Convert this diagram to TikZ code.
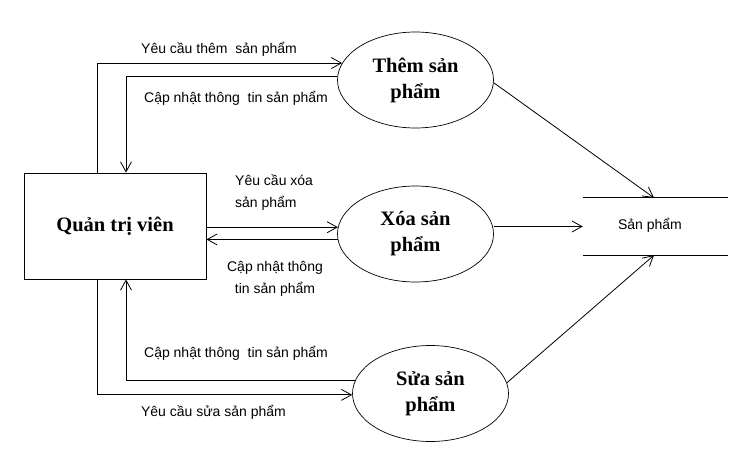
\documentclass[tikz,border=0pt]{standalone}
\usepackage{fontspec}
\setmainfont{Liberation Serif}
\newfontfamily\lblfont{Liberation Sans}
\usetikzlibrary{arrows.meta, shapes.geometric}

\begin{document}
\begin{tikzpicture}[x=1pt, y=-1pt,
		flow/.style={line width=.8pt, -{Straight Barb[length=10pt, width=11pt]}},
		proc/.style={ellipse, draw, line width=.7pt, minimum width=156pt, minimum height=96pt, inner sep=0pt, align=center, font=\fontsize{20.5}{26}\selectfont\bfseries},
		lbl/.style={font=\lblfont\fontsize{14}{22}\selectfont, inner sep=0pt}]
		\useasboundingbox (0, 0) rectangle (748, 459);
		% actor and processes
		\node[draw, line width=.8pt, minimum width=182pt, minimum height=106pt, font=\fontsize{20.5}{26}\selectfont\bfseries](qtv) at (115, 226){Quản trị viên};
		\node[proc](them) at (415.5, 80){Thêm sản\\phẩm};
		\node[proc](xoa) at (415.5, 234){Xóa sản\\phẩm};
		\node[proc](sua) at (430.5, 393.5){Sửa sản\\phẩm};
		% data store
		\node[minimum width=145pt, minimum height=57pt, inner sep=0pt](sp) at (655.5, 226.5){};
		\node[lbl](sptext) at (650, 225){Sản phẩm};
		\draw[line width=.8pt](sp.north west)--(sp.north east);
		\draw[line width=.8pt](sp.south west)--(sp.south east);
		\coordinate (tl) at ([xshift=-18pt]qtv.north);
		\coordinate (tr) at ([xshift=11pt]qtv.north);
		\coordinate (bl) at ([xshift=-18pt]qtv.south);
		\coordinate (br) at ([xshift=11pt]qtv.south);
		% flows
		\draw[flow](tl) |- (them.167);
		\draw[flow](them.177) -| (tr);
		\draw[flow](qtv.east |- xoa.175)--(xoa.175);
		\draw[flow](xoa.184)--(qtv.east |- xoa.184);
		\draw[flow](bl) |- (sua.181);
		\draw[flow](sua.170) -| (br);
		\draw[flow](them.-2)--([xshift=-1.5pt]sp.north);
		\draw[flow](sp.west -| xoa.east)--(sp.west);
		\draw[flow](sua.8)--([xshift=-1.5pt]sp.south);
		% labels
		\node[lbl](l1) at (219, 49){Yêu cầu thêm~ sản phẩm};
		\node[lbl](l2) at (236, 98){Cập nhật thông~ tin sản phẩm};
		\node[lbl, anchor=west, align=left](l3) at (235, 193){Yêu cầu xóa\\sản phẩm};
		\node[lbl, align=center](l4) at (275, 279){Cập nhật thông\\tin sản phẩm};
		\node[lbl](l5) at (236, 353){Cập nhật thông~ tin sản phẩm};
		\node[lbl](l6) at (213.5, 412){Yêu cầu sửa sản phẩm};
	\end{tikzpicture}
\end{document}
